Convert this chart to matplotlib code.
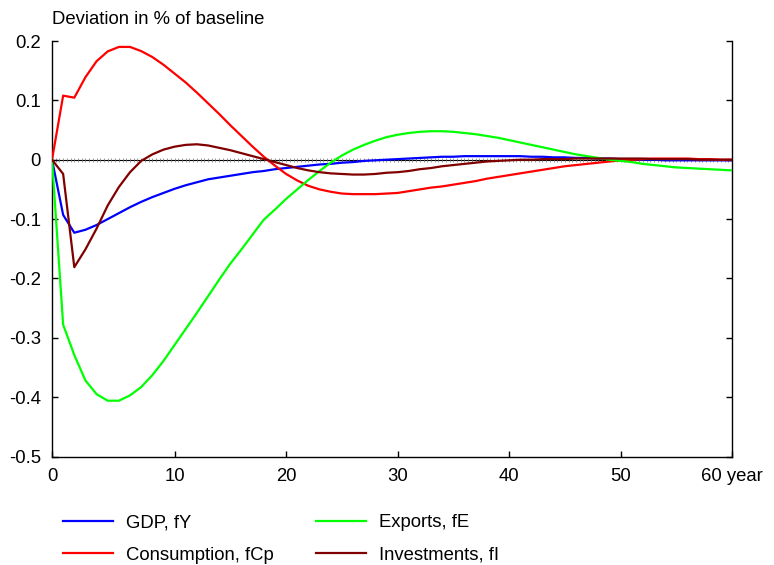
import numpy as np
import matplotlib
matplotlib.use("Agg")
import matplotlib.pyplot as plt

plt.rcParams["font.family"] = ["Liberation Sans", "DejaVu Sans"]
plt.rcParams["axes.unicode_minus"] = False

# Years: the first point is the pre-shock baseline, then 0..60
years = np.arange(-1, 61)

gdp = [0.0, -0.093, -0.123, -0.118, -0.110, -0.100, -0.090, -0.080, -0.071, -0.063,
       -0.056, -0.049, -0.043, -0.038, -0.033, -0.030, -0.027, -0.024, -0.021, -0.019,
       -0.016, -0.014, -0.012, -0.010, -0.008, -0.007, -0.005, -0.004, -0.002, -0.001,
       0.000, 0.001, 0.002, 0.003, 0.004, 0.005, 0.005, 0.006, 0.006, 0.006,
       0.006, 0.006, 0.006, 0.005, 0.005, 0.004, 0.004, 0.003, 0.003, 0.002,
       0.002, 0.001, 0.001, 0.000, 0.000, -0.001, -0.001, -0.001, -0.001, -0.001,
       -0.001, -0.001]

consumption = [0.0, 0.108, 0.1045, 0.139, 0.166, 0.1825, 0.190, 0.190, 0.183, 0.173,
               0.160, 0.145, 0.130, 0.113, 0.095, 0.077, 0.058, 0.040, 0.022, 0.005,
               -0.010, -0.024, -0.035, -0.044, -0.050, -0.054, -0.057, -0.058, -0.058, -0.058,
               -0.057, -0.056, -0.053, -0.050, -0.047, -0.045, -0.042, -0.039, -0.036, -0.032,
               -0.029, -0.026, -0.023, -0.020, -0.017, -0.014, -0.011, -0.009, -0.007, -0.005,
               -0.003, -0.001, 0.000, 0.001, 0.002, 0.002, 0.002, 0.002, 0.001, 0.001,
               0.000, 0.000]

exports = [0.0, -0.278, -0.329, -0.372, -0.395, -0.406, -0.406, -0.397, -0.383, -0.363,
           -0.339, -0.312, -0.285, -0.258, -0.230, -0.202, -0.175, -0.151, -0.126, -0.101,
           -0.084, -0.066, -0.050, -0.034, -0.019, -0.005, 0.007, 0.017, 0.025, 0.032,
           0.038, 0.042, 0.045, 0.047, 0.048, 0.048, 0.047, 0.045, 0.043, 0.040,
           0.037, 0.033, 0.029, 0.025, 0.021, 0.017, 0.013, 0.009, 0.006, 0.003,
           0.000, -0.002, -0.004, -0.007, -0.009, -0.011, -0.013, -0.014, -0.015, -0.016,
           -0.017, -0.018]

investments = [0.0, -0.024, -0.181, -0.151, -0.116, -0.077, -0.046, -0.021, -0.002, 0.009,
               0.017, 0.022, 0.025, 0.026, 0.024, 0.020, 0.016, 0.011, 0.006, 0.001,
               -0.004, -0.009, -0.014, -0.018, -0.021, -0.023, -0.024, -0.025, -0.025, -0.024,
               -0.022, -0.021, -0.019, -0.016, -0.014, -0.011, -0.009, -0.007, -0.005, -0.003,
               -0.002, -0.001, 0.000, 0.000, 0.001, 0.001, 0.001, 0.002, 0.002, 0.002,
               0.002, 0.002, 0.002, 0.002, 0.001, 0.001, 0.001, 0.001, 0.000, 0.000,
               0.000, 0.000]

series = [
    ("GDP, fY", gdp, "#0000ff"),
    ("Consumption, fCp", consumption, "#ff0000"),
    ("Exports, fE", exports, "#00ff00"),
    ("Investments, fI", investments, "#800000"),
]

x_ticks = [-1, 10, 20, 30, 40, 50, 60]
x_labels = ["0", "10", "20", "30", "40", "50", "60 year"]
y_ticks = [0.2, 0.1, 0.0, -0.1, -0.2, -0.3, -0.4, -0.5]
y_labels = ["0.2", "0.1", "0", "-0.1", "-0.2", "-0.3", "-0.4", "-0.5"]

FS = 13.3

fig = plt.figure(figsize=(7.74, 5.65), dpi=100)
ax = fig.add_axes([52 / 774, 1 - 456.5 / 565, (732 - 52) / 774, (456.5 - 41) / 565])

# zero reference line with small ruler marks
ax.axhline(0, color="black", lw=0.8, zorder=1)
marks = np.arange(-1, 60.01, 1 / 3)
ax.plot(marks, np.zeros_like(marks), ls="none", marker="|", ms=2.2, mew=0.5,
        color="0.45", zorder=1)

for label, vals, color in series:
    ax.plot(years, vals, color=color, lw=1.6, label=label, zorder=3)

ax.set_xlim(-1, 60)
ax.set_ylim(-0.5, 0.2)
ax.set_xticks(x_ticks)
ax.set_xticklabels(x_labels)
ax.set_yticks(y_ticks)
ax.set_yticklabels(y_labels)

ax.spines["top"].set_visible(False)
for s in ("left", "bottom", "right"):
    ax.spines[s].set_linewidth(1.0)
ax.tick_params(axis="both", direction="in", length=4, width=1.0, labelsize=FS, pad=8)
ax.tick_params(axis="y", right=True, labelright=False)

fig.text(52 / 774, 1 - 19 / 565, "Deviation in % of baseline", fontsize=FS,
         ha="left", va="center")

fig.legend(loc="upper left", bbox_to_anchor=(63 / 774, 1 - 514 / 565), ncol=2,
           frameon=False, fontsize=FS, handlelength=2.7, handletextpad=0.7,
           columnspacing=2.3, labelspacing=0.86, borderpad=0, borderaxespad=0)

fig.savefig("out.png", dpi=100)
